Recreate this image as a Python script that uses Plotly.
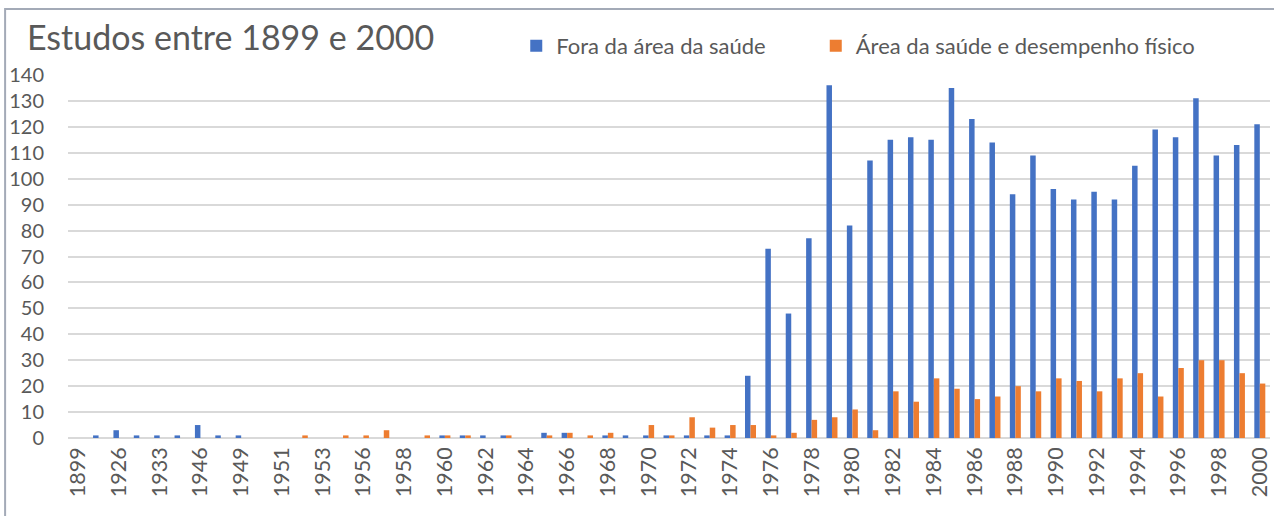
import plotly.graph_objects as go

categories = [
    "1899", "1925", "1926", "1930", "1933", "1940", "1946", "1948", "1949", "1950",
    "1951", "1952", "1953", "1955", "1956", "1957", "1958", "1959", "1960", "1961",
    "1962", "1963", "1964", "1965", "1966", "1967", "1968", "1969", "1970", "1971",
    "1972", "1973", "1974", "1975", "1976", "1977", "1978", "1979", "1980", "1981",
    "1982", "1983", "1984", "1985", "1986", "1987", "1988", "1989", "1990", "1991",
    "1992", "1993", "1994", "1995", "1996", "1997", "1998", "1999", "2000",
]

fora_saude = [
    0, 1, 3, 1, 1, 1, 5, 1, 1, 0,
    0, 0, 0, 0, 0, 0, 0, 0, 1, 1,
    1, 1, 0, 2, 2, 0, 1, 1, 1, 1,
    1, 1, 1, 24, 73, 48, 77, 136, 82, 107,
    115, 116, 115, 135, 123, 114, 94, 109, 96, 92,
    95, 92, 105, 119, 116, 131, 109, 113, 121,
]

area_saude = [
    0, 0, 0, 0, 0, 0, 0, 0, 0, 0,
    0, 1, 0, 1, 1, 3, 0, 1, 1, 1,
    0, 1, 0, 1, 2, 1, 2, 0, 5, 1,
    8, 4, 5, 5, 1, 2, 7, 8, 11, 3,
    18, 14, 23, 19, 15, 16, 20, 18, 23, 22,
    18, 23, 25, 16, 27, 30, 30, 25, 21,
]

tick_labels = categories[::2]

series_names = ["Fora da área da saúde", "Área da saúde e desempenho físico"]
colors = ["#4472C4", "#ED7D31"]
legend_ids = ["legend", "legend2"]

FONT = "Lato"
GRAY = "#595959"

fig = go.Figure()
for name, vals, col, lg in zip(series_names, [fora_saude, area_saude], colors, legend_ids):
    fig.add_trace(go.Bar(x=categories, y=vals, name=name, legend=lg, showlegend=True,
                         marker=dict(color=col, line=dict(width=0))))

W, H = 1274, 516
L, R, T, B = 68, 2, 75, 78
pw = W - L - R
ph = H - T - B

def px_x(p):
    return (p - L) / pw

def px_y(p):
    return (H - B - p) / ph

legend_font = dict(size=22, color=GRAY, family=FONT)

fig.update_layout(
    width=W, height=H,
    margin=dict(l=L, r=R, t=T, b=B),
    paper_bgcolor="white", plot_bgcolor="white",
    showlegend=True,
    barmode="group", bargap=0.46, bargroupgap=0,
    font=dict(family=FONT, color=GRAY),
    title=dict(text="Estudos entre 1899 e 2000", x=27 / W, xanchor="left",
               xref="container", yref="container", y=1 - 38 / H, yanchor="middle",
               font=dict(size=34, color=GRAY, family=FONT)),
    legend=dict(orientation="h", x=px_x(517), xanchor="left",
                y=px_y(46), yanchor="middle", font=legend_font,
                bgcolor="rgba(0,0,0,0)", visible=True),
    legend2=dict(orientation="h", x=px_x(817), xanchor="left",
                 y=px_y(46), yanchor="middle", font=legend_font,
                 bgcolor="rgba(0,0,0,0)", visible=True),
    xaxis=dict(type="category", tickmode="array", tickvals=tick_labels,
               ticktext=tick_labels, tickangle=-90, showgrid=False,
               showline=False, ticks="", ticklabelstandoff=4,
               tickfont=dict(size=21.5, color=GRAY, family=FONT)),
    yaxis=dict(range=[0, 140], dtick=10, tick0=0, showgrid=True,
               gridcolor="#D9D9D9", gridwidth=1.5, zeroline=True,
               zerolinecolor="#D9D9D9", zerolinewidth=2, ticks="",
               ticklabelstandoff=23,
               tickfont=dict(size=20, color=GRAY, family=FONT)),
    shapes=[dict(type="rect", xref="paper", yref="paper",
                 x0=px_x(5), x1=px_x(1290), y0=px_y(530), y1=px_y(9),
                 line=dict(color="#A3AAB7", width=2), fillcolor="rgba(0,0,0,0)",
                 layer="below")],
)

fig.write_html("out.html", config={"displayModeBar": False},
               post_script="document.body.style.margin='0';document.body.style.padding='0';")
